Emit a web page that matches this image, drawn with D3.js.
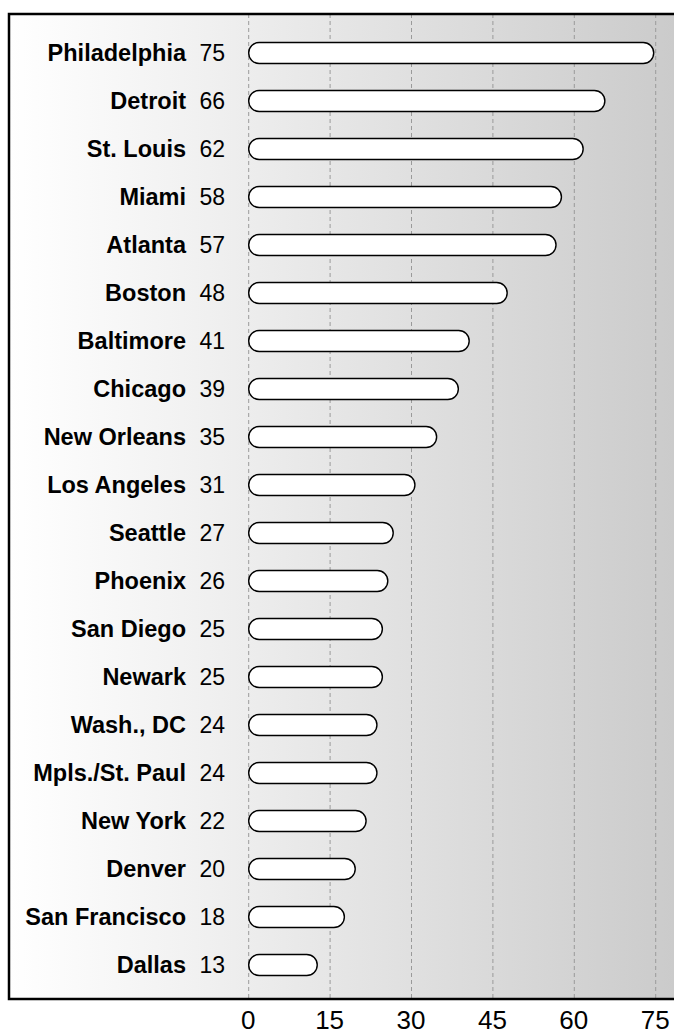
<!DOCTYPE html>
<html>
<head>
<meta charset="utf-8">
<script src="https://cdn.jsdelivr.net/npm/d3@7"></script>
<style>
  html, body { margin: 0; padding: 0; background: #fff; }
  svg { display: block; }
  text { font-family: "Liberation Sans", Arial, sans-serif; }
</style>
</head>
<body>
<svg id="chart" width="674" height="1034"></svg>
<script>
const cities = ["Philadelphia","Detroit","St. Louis","Miami","Atlanta","Boston","Baltimore","Chicago","New Orleans","Los Angeles","Seattle","Phoenix","San Diego","Newark","Wash., DC","Mpls./St. Paul","New York","Denver","San Francisco","Dallas"];
const values = [75,66,62,58,57,48,41,39,35,31,27,26,25,25,24,24,22,20,18,13];
const tickValues = [0,15,30,45,60,75];

const W = 674, H = 1034;
const svg = d3.select("#chart");

const frame = {left: 9, top: 14, bottom: 999, right: 690};

const x = d3.scaleLinear().domain([0, 75]).range([248.7, 655.7]);
const y = d3.scalePoint().domain(cities).range([53, 965]);
const barH = 21;

// gradient background
const defs = svg.append("defs");
const grad = defs.append("linearGradient").attr("id", "bg")
  .attr("x1", "0%").attr("x2", "100%").attr("y1", "0%").attr("y2", "0%");
grad.append("stop").attr("offset", "0%").attr("stop-color", "#ffffff");
grad.append("stop").attr("offset", "30%").attr("stop-color", "#f0f0f0");
grad.append("stop").attr("offset", "100%").attr("stop-color", "#cbcbcb");

svg.append("rect")
  .attr("x", frame.left).attr("y", frame.top)
  .attr("width", W - frame.left).attr("height", frame.bottom - frame.top)
  .attr("fill", "url(#bg)");

// grid lines
svg.append("g").selectAll("line").data(tickValues).join("line")
  .attr("x1", d => x(d)).attr("x2", d => x(d))
  .attr("y1", frame.top).attr("y2", frame.bottom)
  .attr("stroke", "#9a9a9a").attr("stroke-width", 1)
  .attr("stroke-dasharray", "4,3");

// bars
svg.append("g").selectAll("rect").data(cities).join("rect")
  .attr("x", x(0))
  .attr("y", d => y(d) - barH / 2)
  .attr("width", (d, i) => x(values[i]) - x(0) - 2)
  .attr("height", barH)
  .attr("rx", barH / 2).attr("ry", barH / 2)
  .attr("fill", "#ffffff").attr("stroke", "#000").attr("stroke-width", 1.4);

// city labels
svg.append("g").selectAll("text").data(cities).join("text")
  .attr("x", 186).attr("y", d => y(d) + 8)
  .attr("text-anchor", "end")
  .attr("font-size", 23.5).attr("font-weight", "bold")
  .attr("fill", "#000")
  .text(d => d);

// value labels
svg.append("g").selectAll("text").data(cities).join("text")
  .attr("x", 225).attr("y", d => y(d) + 8)
  .attr("text-anchor", "end")
  .attr("font-size", 23)
  .attr("fill", "#000")
  .text((d, i) => values[i]);

// frame
svg.append("rect")
  .attr("x", frame.left).attr("y", frame.top)
  .attr("width", frame.right - frame.left).attr("height", frame.bottom - frame.top)
  .attr("fill", "none").attr("stroke", "#000").attr("stroke-width", 2.5);

// axis tick labels
const axis = d3.axisBottom(x).tickValues(tickValues).tickSize(0).tickPadding(0);
const gAxis = svg.append("g").attr("transform", `translate(-1, 0)`).call(axis);
gAxis.select(".domain").remove();
gAxis.selectAll("text")
  .attr("font-size", 26).attr("font-family", "Liberation Sans, Arial, sans-serif")
  .attr("fill", "#000").attr("dy", null).attr("y", 1029);
</script>
</body>
</html>
